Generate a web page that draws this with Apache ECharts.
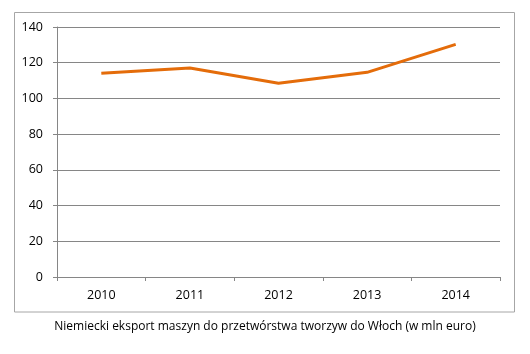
<!DOCTYPE html>
<html>
<head>
<meta charset="utf-8">
<script src="https://cdn.jsdelivr.net/npm/echarts@6/dist/echarts.min.js"></script>
<style>
  html, body { margin: 0; padding: 0; background: #fff; }
  #chart { width: 530px; height: 354px; }
</style>
</head>
<body>
<div id="chart"></div>
<script>
// dane
var years = ["2010", "2011", "2012", "2013", "2014"];
var exportValues = [114.1, 117.0, 108.5, 114.6, 130.3];
var yTicks = { min: 0, max: 140, interval: 20 };
var caption = "Niemiecki eksport maszyn do przetwórstwa tworzyw do Włoch (w mln euro)";

var font = "'Open Sans', sans-serif";
var chart = echarts.init(document.getElementById("chart"), null, { renderer: "canvas" });

var option = {
  animation: false,
  backgroundColor: "#fff",
  grid: { left: 57, right: 30, top: 27, bottom: 77 },
  graphic: [
    {
      type: "rect",
      shape: { x: 14.5, y: 12.5, width: 500, height: 299.5 },
      style: { fill: "none", stroke: "#a6a6a6", lineWidth: 1 },
      z: -1
    },
    {
      type: "text",
      left: "center",
      top: 321,
      style: { text: caption, font: "12px " + font, fill: "#000" }
    }
  ],
  xAxis: {
    type: "category",
    data: years,
    boundaryGap: true,
    axisLine: { lineStyle: { color: "#868686", width: 1 } },
    axisTick: { show: true, length: 4, lineStyle: { color: "#868686" } },
    axisLabel: { color: "#000", fontSize: 12.5, fontFamily: font, margin: 12 }
  },
  yAxis: {
    type: "value",
    min: yTicks.min,
    max: yTicks.max,
    interval: yTicks.interval,
    axisLine: { show: true, lineStyle: { color: "#868686", width: 1 } },
    axisTick: { show: true, length: 4, lineStyle: { color: "#868686" } },
    axisLabel: { color: "#000", fontSize: 12.5, fontFamily: font, margin: 14 },
    splitLine: { lineStyle: { color: "#868686", width: 1 } }
  },
  series: [
    {
      type: "line",
      data: exportValues,
      symbol: "none",
      lineStyle: { color: "#E46C0A", width: 3 },
      itemStyle: { color: "#E46C0A" }
    }
  ]
};

chart.setOption(option);
</script>
</body>
</html>
